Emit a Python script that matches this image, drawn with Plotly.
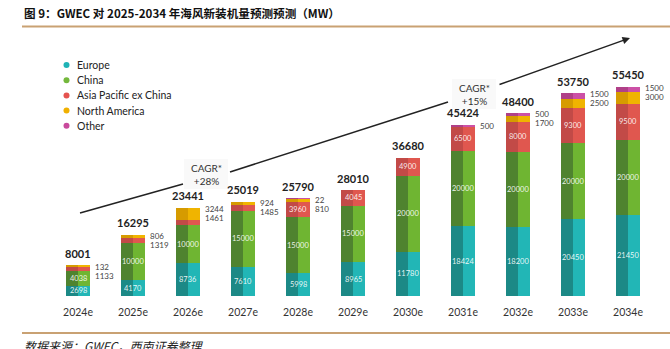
import plotly.graph_objects as go

# Offshore wind new installations forecast (MW), GWEC
YEARS = ["2024e", "2025e", "2026e", "2027e", "2028e", "2029e",
         "2030e", "2031e", "2032e", "2033e", "2034e"]
EUROPE = [2698, 4170, 8736, 7610, 5998, 8965, 11780, 18424, 18200, 20450, 21450]
CHINA = [4038, 10000, 10000, 15000, 15000, 15000, 20000, 20000, 20000, 20000, 20000]
APAC_EX_CHINA = [1133, 1319, 1461, 1485, 3960, 4045, 4900, 6500, 8000, 9300, 9500]
NORTH_AMERICA = [132, 806, 3244, 924, 810, 0, 0, 0, 1700, 2500, 3000]
OTHER = [0, 0, 0, 0, 22, 0, 0, 500, 500, 1500, 1500]
TOTALS = [8001, 16295, 23441, 25019, 25790, 28010, 36680, 45424, 48400, 53750, 55450]

SERIES = [
    ("Europe", EUROPE, "#1c8986", "#22b6b6", "#20b3b6"),
    ("China", CHINA, "#4f832f", "#6fb532", "#74b83c"),
    ("Asia Pacific ex China", APAC_EX_CHINA, "#c24a47", "#e0574f", "#e5534f"),
    ("North America", NORTH_AMERICA, "#d69b00", "#f0b400", "#f0b000"),
    ("Other", OTHER, "#b04088", "#cc50a6", "#c94a9c"),
]

W, H = 670, 349
M_T, M_B = 30, 53
PLOT_H = H - M_T - M_B
X0_PX, STEP_PX = 78, 55
FACE = 0.218  # width of one column face in category units
Y_TOP = 70500

FONT = "Lato"
CJK = "Noto Sans CJK SC"


def pxx(x):
    return x / W


def pxy(y):
    return (H - M_B - y) / PLOT_H


fig = go.Figure()
xs = list(range(len(YEARS)))

# two faces per stacked column: darker left, lighter right
for name, vals, dark, light, _ in SERIES:
    fig.add_trace(go.Bar(x=[i - FACE / 2 for i in xs], y=vals,
                         width=FACE, marker=dict(color=dark, line=dict(width=0)),
                         name=name, showlegend=False, hoverinfo="skip"))
    fig.add_trace(go.Bar(x=[i + FACE / 2 for i in xs], y=vals,
                         width=FACE, marker=dict(color=light, line=dict(width=0)),
                         name=name, showlegend=False, hoverinfo="skip"))

annotations = []

# values inside segments and beside the top of each column
for i in xs:
    base = 0
    side = []
    for name, vals, *_ in SERIES:
        v = vals[i]
        inside = name in ("Europe", "China") or (name == "Asia Pacific ex China" and v >= 2000)
        if v > 0 and inside:
            annotations.append(dict(x=i, y=base + v / 2, text=str(v), showarrow=False,
                                    font=dict(family=FONT, size=7.5, color="rgba(255,255,255,0.9)")))
        elif v > 0:
            side.append(v)
        base += v
    for k, v in enumerate(reversed(side)):
        annotations.append(dict(x=i, y=TOTALS[i], text=str(v), showarrow=False,
                                xanchor="left", xshift=15, yshift=-1 - 9 * k,
                                font=dict(family=FONT, size=8, color="#444")))
    annotations.append(dict(x=i, y=TOTALS[i], text=f"<b>{TOTALS[i]}</b>", showarrow=False,
                            yshift=12, font=dict(family=FONT, size=11, color="#222")))

# legend
for k, (name, _, _, _, dot) in enumerate(SERIES):
    yy = 65 + 15.2 * k
    fig.add_shape(type="circle", xref="paper", yref="paper",
                  x0=pxx(63.5), x1=pxx(69.5), y0=pxy(yy + 3), y1=pxy(yy - 3),
                  fillcolor=dot, line=dict(width=0))
    annotations.append(dict(xref="paper", yref="paper", x=pxx(75), y=pxy(yy), text=name,
                            showarrow=False, xanchor="left", yanchor="middle",
                            font=dict(family=FONT, size=10.5, color="#222")))

# growth trend line with CAGR notes
for (xa, ya, xb, yb) in [(80, 213, 183, 184), (230, 172, 448, 102)]:
    fig.add_shape(type="line", xref="paper", yref="paper",
                  x0=pxx(xa), y0=pxy(ya), x1=pxx(xb), y1=pxy(yb),
                  line=dict(color="#222", width=1.5))
annotations.append(dict(xref="paper", yref="paper", axref="pixel", ayref="pixel",
                        x=pxx(630), y=pxy(38), ax=498 - 630, ay=85 - 38,
                        showarrow=True, arrowhead=2, arrowsize=1, arrowwidth=1.5,
                        arrowcolor="#222", text=""))
for cx, cy, txt in [(206, 174, "CAGR*<br>+28%"), (474, 94, "CAGR*<br>+15%")]:
    fig.add_shape(type="rect", xref="paper", yref="paper",
                  x0=pxx(cx - 22), x1=pxx(cx + 22), y0=pxy(cy + 15), y1=pxy(cy - 15),
                  fillcolor="rgba(246,246,246,0.7)", line=dict(width=0), layer="below")
    annotations.append(dict(xref="paper", yref="paper", x=pxx(cx), y=pxy(cy), text=txt,
                            showarrow=False, align="center", xanchor="center", yanchor="middle",
                            font=dict(family=FONT, size=10, color="#333")))

# title, rules and source
annotations.append(dict(xref="paper", yref="paper", x=pxx(22), y=pxy(13),
                        text="<b>图 9：GWEC 对 2025-2034 年海风新装机量预测预测（MW）</b>",
                        showarrow=False, xanchor="left", yanchor="middle",
                        font=dict(family=CJK, size=11.6, color="#111")))
annotations.append(dict(xref="paper", yref="paper", x=pxx(22), y=pxy(345),
                        text="<i>数据来源：GWEC，西南证券整理</i>",
                        showarrow=False, xanchor="left", yanchor="middle",
                        font=dict(family=CJK, size=12, color="#222")))
for yy in (26.5, 333):
    fig.add_shape(type="line", xref="paper", yref="paper",
                  x0=pxx(22), x1=1, y0=pxy(yy), y1=pxy(yy),
                  line=dict(color="#c9a173", width=2))

fig.update_layout(
    width=W, height=H,
    margin=dict(l=0, r=0, t=M_T, b=M_B),
    barmode="stack", bargap=0,
    paper_bgcolor="white", plot_bgcolor="white",
    showlegend=False,
    annotations=annotations,
    xaxis=dict(range=[-X0_PX / STEP_PX, (W - X0_PX) / STEP_PX],
               tickvals=xs, ticktext=YEARS, showgrid=False, zeroline=False,
               showline=False, ticks="outside", ticklen=6, tickcolor="rgba(0,0,0,0)",
               tickfont=dict(family=FONT, size=10.5, color="#333")),
    yaxis=dict(range=[0, Y_TOP], visible=False, showgrid=False, zeroline=False),
)

fig.write_html("out.html")
